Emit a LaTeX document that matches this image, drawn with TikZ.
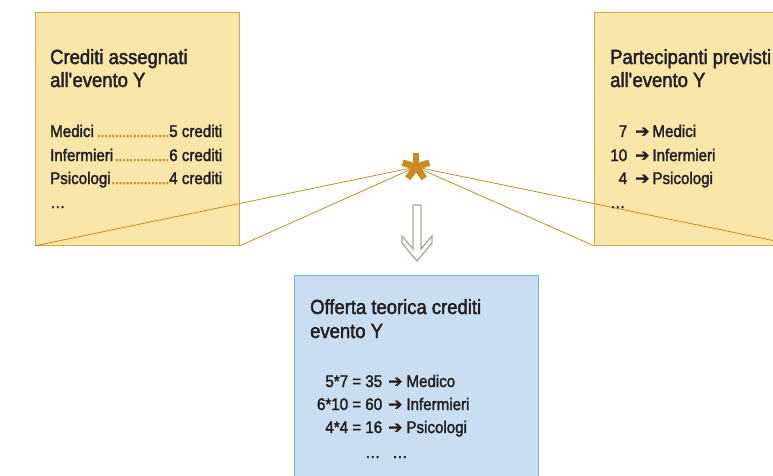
\documentclass[tikz,border=0pt]{standalone}
\usepackage{fontspec}
\setmainfont{Liberation Sans}[FakeStretch=0.9, FakeBold=2]
\newfontfamily\arrowfont{DejaVu Sans}[FakeBold=1]
\usetikzlibrary{positioning}
\definecolor{notebg}{HTML}{FAE6A8}
\definecolor{noteline}{HTML}{DBA543}
\definecolor{resultbg}{HTML}{C9DEF3}
\definecolor{resultline}{HTML}{72B3E0}
\definecolor{rayline}{HTML}{C98A22}
\definecolor{ink}{HTML}{231F20}
\definecolor{hollow}{HTML}{A7A994}
\newcommand{\freccia}{{\arrowfont\fontsize{17}{17}\selectfont ➔}}
\newcommand{\voce}[2]{\hbox to 172pt{#1\textcolor{rayline}{\leaders\hbox to 3.6pt{\hss.\hss}\hfill}#2}}
\tikzset{notebox/.style = {draw=noteline, fill=notebg, line width=0.8pt, anchor=north west, inner sep=0pt, minimum width=204pt, minimum height=233pt}}
\tikzset{resultbox/.style = {notebox, draw=resultline, fill=resultbg, minimum width=244pt, minimum height=230pt}}
\tikzset{heading/.style = {anchor=base west, inner sep=0pt, text=ink, font=\fontsize{20.5}{23}\selectfont}}
\tikzset{entry/.style = {anchor=base west, inner sep=0pt, text=ink, font=\fontsize{16.8}{20}\selectfont}}
\tikzset{ray/.style = {draw=rayline, line width=0.8pt}}

\begin{document}
\begin{tikzpicture}[x=1pt,y=-1pt]
	\useasboundingbox (0,0) rectangle (773,475);
	\clip (0,0) rectangle (773,475);
	% the three boxes
	\node[notebox] (crediti) at (35,12) {};
	\node[notebox] (partecipanti) at (594,12) {};
	\node[resultbox] (offerta) at (294,275) {};
	% rays to the star
	\coordinate (fuoco) at (416,167);
	\draw[ray] (fuoco) -- (crediti.south west);
	\draw[ray] (fuoco) -- (crediti.south east);
	\draw[ray] (fuoco) -- (partecipanti.south west);
	\draw[ray] (fuoco) -- (partecipanti.south east);
	\foreach \a in {270,342,54,126,198}
		\draw[rayline, line width=6.5pt] (fuoco) -- ++(\a:14);
	% hollow arrow down
	\draw[hollow, line width=1.3pt, line join=miter] (413,205) -- (421,205) -- (421,249) -- (432,236)
		-- (432,243) -- (417,261) -- (402,243) -- (402,236) -- (413,249) -- cycle;
	% left box
	\node[heading] (crediti-t1) at (50,64) {Crediti assegnati};
	\node[heading] (crediti-t2) at (50,87) {all\textquotesingle evento Y};
	\node[entry] (crediti-a) at (50,137) {\voce{Medici}{5 crediti}};
	\node[entry] (crediti-b) at (50,161) {\voce{Infermieri}{6 crediti}};
	\node[entry] (crediti-c) at (50,184) {\voce{Psicologi}{4 crediti}};
	\node[entry] (crediti-d) at (50,208) {\ldots};
	% right box
	\node[heading] (partecipanti-t1) at (610,64) {Partecipanti previsti};
	\node[heading] (partecipanti-t2) at (610,87) {all\textquotesingle evento Y};
	\node[entry] (partecipanti-a) at (610,137) {\hbox to 17pt{\hss 7}\kern 8pt\freccia\kern 3pt Medici};
	\node[entry] (partecipanti-b) at (610,161) {\hbox to 17pt{\hss 10}\kern 8pt\freccia\kern 3pt Infermieri};
	\node[entry] (partecipanti-c) at (610,184) {\hbox to 17pt{\hss 4}\kern 8pt\freccia\kern 3pt Psicologi};
	\node[entry] (partecipanti-d) at (610,208) {\ldots};
	% bottom box
	\node[heading] (offerta-t1) at (310,314) {Offerta teorica crediti};
	\node[heading] (offerta-t2) at (310,338) {evento Y};
	\node[entry] (offerta-a) at (310,387) {\hbox to 72pt{\hss 5*7 = 35}\kern 6pt\freccia\kern 4pt Medico};
	\node[entry] (offerta-b) at (310,410) {\hbox to 72pt{\hss 6*10 = 60}\kern 6pt\freccia\kern 4pt Infermieri};
	\node[entry] (offerta-c) at (310,433) {\hbox to 72pt{\hss 4*4 = 16}\kern 6pt\freccia\kern 4pt Psicologi};
	\node[entry] (offerta-d) at (365,458) {\ldots\kern 12pt\ldots};
\end{tikzpicture}
\end{document}
